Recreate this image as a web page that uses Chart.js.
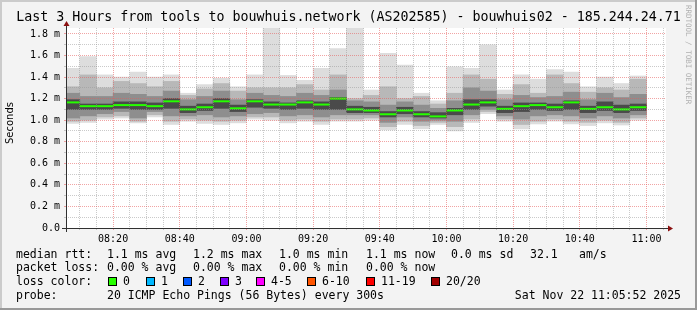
<!DOCTYPE html>
<html>
<head>
<meta charset="utf-8">
<title>bouwhuis02 - last 3 hours</title>
<script src="https://cdn.jsdelivr.net/npm/chart.js@4.4.1/dist/chart.umd.min.js"></script>
<style>
  html, body { margin: 0; padding: 0; background: #f3f3f3; }
  canvas { display: block; }
</style>
</head>
<body>
<canvas id="smoke" width="697" height="310"></canvas>
<script>
// Smokeping style graph, 20 pings every 300s, last 3 hours

const startTime = '08:05:52';
const endTime = '11:05:52';

// end of each 5 minute step
const stepEnd = [
  '08:10', '08:15', '08:20', '08:25', '08:30', '08:35', '08:40', '08:45', '08:50',
  '08:55', '09:00', '09:05', '09:10', '09:15', '09:20', '09:25', '09:30', '09:35',
  '09:40', '09:45', '09:50', '09:55', '10:00', '10:05', '10:10', '10:15', '10:20',
  '10:25', '10:30', '10:35', '10:40', '10:45', '10:50', '10:55', '11:00'
];

// rtt in ms, smoke bands from outside to inside
const pingMin = [0.97, 0.98, 1.01, 1.02, 0.975, 1.03, 0.96, 0.99, 0.97, 0.96, 0.975, 1.01, 1.00, 0.975, 0.99, 0.96, 0.99, 0.99,
  1.00, 0.91, 0.96, 0.92, 0.96, 0.90, 0.98, 1.06, 0.99, 0.92, 0.965, 0.99, 0.965, 0.95, 0.975, 0.955, 1.00];
const outerLo = [0.99, 1.00, 1.03, 1.04, 0.99, 1.05, 0.99, 1.01, 1.00, 0.99, 1.00, 1.03, 1.03, 1.00, 1.01, 0.99, 1.01, 1.01,
  1.02, 0.94, 0.99, 0.95, 0.98, 0.94, 1.01, 1.08, 1.01, 0.96, 0.99, 1.01, 0.99, 0.98, 1.00, 0.98, 1.02];
const midLo = [1.02, 1.04, 1.06, 1.08, 1.02, 1.08, 1.04, 1.04, 1.05, 1.03, 1.04, 1.06, 1.07, 1.04, 1.05, 1.03, 1.05, 1.05,
  1.05, 0.98, 1.03, 0.99, 1.00, 0.99, 1.05, 1.10, 1.04, 1.01, 1.04, 1.05, 1.04, 1.02, 1.04, 1.02, 1.05];
const coreLo = [1.10, 1.10, 1.10, 1.11, 1.10, 1.10, 1.11, 1.07, 1.09, 1.11, 1.08, 1.12, 1.11, 1.10, 1.11, 1.10, 1.10, 1.07,
  1.07, 1.03, 1.06, 1.03, 1.02, 1.05, 1.10, 1.13, 1.07, 1.08, 1.10, 1.09, 1.10, 1.07, 1.09, 1.07, 1.09];
const coreHi = [1.19, 1.15, 1.15, 1.17, 1.17, 1.16, 1.20, 1.13, 1.15, 1.20, 1.14, 1.19, 1.17, 1.16, 1.18, 1.17, 1.21, 1.13,
  1.12, 1.08, 1.12, 1.08, 1.07, 1.11, 1.19, 1.19, 1.13, 1.16, 1.16, 1.15, 1.18, 1.13, 1.17, 1.14, 1.15];
const midHi = [1.25, 1.22, 1.22, 1.25, 1.24, 1.22, 1.27, 1.19, 1.22, 1.27, 1.19, 1.25, 1.23, 1.22, 1.25, 1.23, 1.28, 1.18,
  1.17, 1.14, 1.17, 1.14, 1.11, 1.18, 1.30, 1.27, 1.19, 1.23, 1.21, 1.22, 1.26, 1.19, 1.25, 1.21, 1.24];
const outerHi = [1.31, 1.42, 1.30, 1.36, 1.34, 1.31, 1.36, 1.23, 1.29, 1.34, 1.27, 1.30, 1.30, 1.30, 1.33, 1.28, 1.42, 1.20,
  1.23, 1.31, 1.20, 1.22, 1.15, 1.25, 1.42, 1.38, 1.24, 1.33, 1.25, 1.42, 1.34, 1.26, 1.30, 1.28, 1.38];
const pingMax = [1.48, 1.59, 1.42, 1.40, 1.445, 1.40, 1.42, 1.25, 1.33, 1.39, 1.31, 1.42, 1.90, 1.415, 1.37, 1.48, 1.665, 1.90,
  1.28, 1.62, 1.51, 1.25, 1.18, 1.495, 1.48, 1.70, 1.28, 1.42, 1.38, 1.47, 1.445, 1.31, 1.40, 1.34, 1.41];
const medianRtt = [1.165, 1.13, 1.13, 1.14, 1.14, 1.13, 1.175, 1.10, 1.12, 1.175, 1.11, 1.175, 1.145, 1.145, 1.165, 1.145, 1.20, 1.10,
  1.09, 1.055, 1.09, 1.055, 1.035, 1.09, 1.145, 1.165, 1.105, 1.13, 1.14, 1.12, 1.165, 1.105, 1.12, 1.10, 1.12];

const lossLabels = ['0', '1', '2', '3', '4-5', '6-10', '11-19', '20/20'];
const lossColors = ['#26ff00', '#00b8ff', '#0059ff', '#7e00ff', '#ff00ff', '#ff5500', '#ff0000', '#a10000'];

const rttStats = ['1.1 ms avg', '1.2 ms max', '1.0 ms min', '1.1 ms now', '0.0 ms sd', '32.1', 'am/s'];
const lossStats = ['0.00 % avg', '0.00 % max', '0.00 % min', '0.00 % now'];

const titleText = 'Last 3 Hours from tools to bouwhuis.network (AS202585) - bouwhuis02 - 185.244.24.71';
const probeText = '20 ICMP Echo Pings (56 Bytes) every 300s';
const dateText = 'Sat Nov 22 11:05:52 2025';

const MONO = '"DejaVu Sans Mono", monospace';
const MAJOR = 'rgba(230, 90, 90, 0.55)';
const MINOR = 'rgba(150, 150, 150, 0.5)';

function toMin(s) {
  const p = s.split(':').map(Number);
  return p[0] * 60 + p[1] + (p[2] || 0) / 60;
}

function hhmm(m) {
  const h = Math.floor(m / 60);
  const mm = Math.round(m % 60);
  return String(h).padStart(2, '0') + ':' + String(mm).padStart(2, '0');
}

// each step is drawn centred in its 5 minute slot
const stepMid = stepEnd.map((t) => toMin(t) - 2.5);

function band(lo, hi, color, order) {
  return {
    type: 'bar',
    data: stepMid.map((x, i) => ({ x: x, y: [lo[i], hi[i]] })),
    backgroundColor: color,
    borderWidth: 0,
    barPercentage: 1,
    categoryPercentage: 1,
    grouped: false,
    order: order,
    clip: 0,
  };
}

// background, frame and white plot area
const framePlugin = {
  id: 'frame',
  beforeDraw(chart) {
    const ctx = chart.ctx;
    const w = chart.width, h = chart.height;
    const a = chart.chartArea;
    ctx.save();
    ctx.fillStyle = '#f3f3f3';
    ctx.fillRect(0, 0, w, h);
    ctx.fillStyle = '#cbcbcb';
    ctx.fillRect(0, 0, w, 2);
    ctx.fillRect(0, 0, 2, h);
    ctx.fillStyle = '#999999';
    ctx.fillRect(0, h - 2, w, 2);
    ctx.fillRect(w - 2, 0, 2, h);
    ctx.fillStyle = '#ffffff';
    ctx.fillRect(a.left, a.top, a.right - a.left, a.bottom - a.top);
    ctx.restore();
  },
  afterDraw(chart) {
    const ctx = chart.ctx;
    const a = chart.chartArea;
    ctx.save();

    // axes with arrows
    ctx.strokeStyle = '#303030';
    ctx.lineWidth = 1;
    ctx.beginPath();
    ctx.moveTo(a.left - 4, a.bottom + 0.5);
    ctx.lineTo(a.right + 4, a.bottom + 0.5);
    ctx.moveTo(a.left + 0.5, a.bottom + 4);
    ctx.lineTo(a.left + 0.5, a.top - 4);
    ctx.stroke();
    ctx.fillStyle = '#8b1010';
    ctx.beginPath();
    ctx.moveTo(a.right + 2, a.bottom - 2.5);
    ctx.lineTo(a.right + 7, a.bottom + 0.5);
    ctx.lineTo(a.right + 2, a.bottom + 3.5);
    ctx.closePath();
    ctx.fill();
    ctx.beginPath();
    ctx.moveTo(a.left - 2.5, a.top - 2);
    ctx.lineTo(a.left + 0.5, a.top - 7);
    ctx.lineTo(a.left + 3.5, a.top - 2);
    ctx.closePath();
    ctx.fill();

    // title
    ctx.fillStyle = '#000';
    ctx.textBaseline = 'middle';
    ctx.textAlign = 'center';
    ctx.font = '13.3px ' + MONO;
    ctx.fillText(titleText, chart.width / 2, 18);

    // vertical axis label
    ctx.save();
    ctx.translate(10, 123);
    ctx.rotate(-Math.PI / 2);
    ctx.font = '10px "DejaVu Sans", sans-serif';
    ctx.fillText('Seconds', 0, 0);
    ctx.restore();

    // watermark
    ctx.save();
    ctx.translate(688, 5);
    ctx.rotate(Math.PI / 2);
    ctx.textAlign = 'left';
    ctx.fillStyle = '#b0b0b0';
    ctx.font = '7.5px ' + MONO;
    ctx.fillText('RRDTOOL / TOBI OETIKER', 0, 0);
    ctx.restore();

    // legend rows
    ctx.textAlign = 'left';
    ctx.font = '11.5px ' + MONO;
    const cols = [107, 193, 279, 366, 451, 530, 579];
    ctx.fillText('median rtt:', 16, 255);
    rttStats.forEach((s, i) => ctx.fillText(s, cols[i], 255));
    ctx.fillText('packet loss:', 16, 268.5);
    lossStats.forEach((s, i) => ctx.fillText(s, cols[i], 268.5));
    ctx.fillText('loss color:', 16, 282);
    const boxX = [108, 146, 183, 220, 256, 307, 366, 431];
    lossLabels.forEach((lab, i) => {
      ctx.fillStyle = '#000';
      ctx.fillRect(boxX[i], 277, 9, 9);
      ctx.fillStyle = lossColors[i];
      ctx.fillRect(boxX[i] + 1, 278, 7, 7);
      ctx.fillStyle = '#000';
      ctx.fillText(lab, boxX[i] + 15, 282);
    });
    ctx.fillText('probe:', 16, 296);
    ctx.fillText(probeText, 107, 296);
    ctx.textAlign = 'right';
    ctx.fillText(dateText, 681, 296);

    ctx.restore();
  },
};

const datasets = [
  {
    type: 'line',
    label: 'median',
    data: stepMid.map((x, i) => ({ x: x, y: medianRtt[i] })),
    showLine: false,
    pointStyle: 'line',
    pointRadius: 8.33,
    pointHoverRadius: 8.33,
    pointBorderWidth: 2,
    pointBorderColor: '#26ff00',
    order: 0,
    clip: 0,
  },
  band(coreLo, coreHi, '#4a4a4a', 1),
  band(midLo, midHi, '#8e8e8e', 2),
  band(outerLo, outerHi, '#b8b8b8', 3),
  band(pingMin, pingMax, '#dddddd', 4),
];

new Chart(document.getElementById('smoke'), {
  data: { datasets: datasets },
  plugins: [framePlugin],
  options: {
    responsive: false,
    animation: false,
    events: [],
    layout: { padding: { left: 0, right: 31, top: 28, bottom: 0 } },
    plugins: {
      legend: { display: false },
      tooltip: { enabled: false },
      title: { display: false },
    },
    scales: {
      x: {
        type: 'linear',
        offset: false,
        min: toMin(startTime),
        max: toMin(endTime),
        afterBuildTicks(scale) {
          const ticks = [];
          for (let m = Math.ceil(scale.min / 5) * 5; m <= scale.max; m += 5) ticks.push({ value: m });
          scale.ticks = ticks;
        },
        afterFit(scale) {
          scale.height = 82;
        },
        ticks: {
          autoSkip: false,
          maxRotation: 0,
          padding: 3,
          color: '#000',
          font: { family: MONO, size: 10 },
          callback: (v) => (v % 20 === 0 ? hhmm(v) : ''),
        },
        grid: {
          z: 1,
          offset: false,
          tickLength: 2,
          color: (c) => (c.tick && c.tick.value % 20 === 0 ? MAJOR : MINOR),
          tickColor: (c) => (c.tick && c.tick.value % 20 === 0 ? MAJOR : MINOR),
        },
        border: { display: false, dash: [1, 1] },
      },
      y: {
        type: 'linear',
        min: 0,
        max: 1.855,
        afterBuildTicks(scale) {
          const ticks = [];
          for (let k = 0; k <= 18; k++) ticks.push({ value: k / 10 });
          scale.ticks = ticks;
        },
        afterFit(scale) {
          scale.width = 66;
        },
        ticks: {
          autoSkip: false,
          padding: 4,
          color: '#000',
          font: { family: MONO, size: 10 },
          callback: (v) => {
            const k = Math.round(v * 10);
            if (k % 2) return '';
            return k === 0 ? '0.0' : v.toFixed(1) + ' m';
          },
        },
        grid: {
          z: 1,
          tickLength: 2,
          color: (c) => (c.tick && Math.round(c.tick.value * 10) % 2 === 0 ? MAJOR : MINOR),
          tickColor: (c) => (c.tick && Math.round(c.tick.value * 10) % 2 === 0 ? MAJOR : MINOR),
        },
        border: { display: false, dash: [1, 1] },
      },
    },
  },
});
</script>
</body>
</html>
